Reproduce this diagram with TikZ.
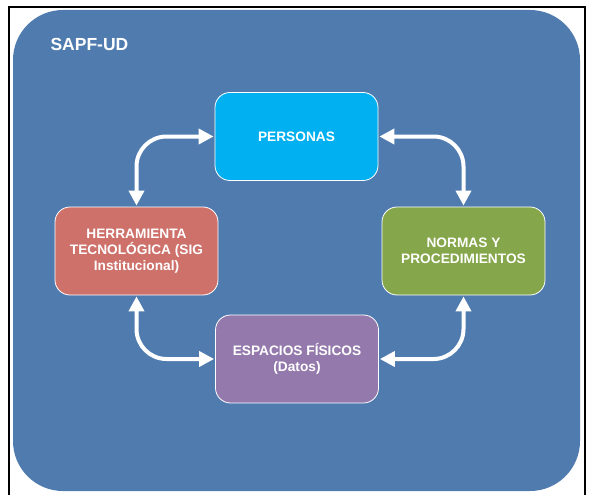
\documentclass[tikz,border=0pt]{standalone}
\usepackage{fontspec}
\setmainfont{Liberation Sans}
\usetikzlibrary{positioning, arrows.meta}
\definecolor{panelblue}{RGB}{79,123,175}
\definecolor{perblue}{RGB}{0,176,240}
\definecolor{herred}{RGB}{206,113,107}
\definecolor{norgreen}{RGB}{133,166,74}
\definecolor{esppurple}{RGB}{148,121,172}
\begin{document}
\begin{tikzpicture}[x=1pt, y=-1pt,
  box/.style={rectangle, rounded corners=15pt, draw=white, line width=0.8pt, minimum width=163pt, minimum height=88pt, align=center, text=white, font=\fontsize{13.7}{16}\selectfont\bfseries},
  arr/.style={{Triangle[length=15pt,width=15pt]}-{Triangle[length=15pt,width=15pt]}, line width=4pt, draw=white, rounded corners=30pt, shorten >=1pt, shorten <=1pt}
]
  \useasboundingbox (0,0) rectangle (592,495);
  \fill[white] (0,0) rectangle (592,495);
  \draw[line width=1.5pt] (9,495) -- (9,7) -- (585,7) -- (585,495);

  % Panel
  \node[fill=panelblue, rounded corners=50pt, minimum width=567pt, minimum height=481pt, inner sep=0pt] (panel) at (296.5,250.5) {};
  \node[anchor=west, text=white, font=\fontsize{17.5}{20}\selectfont\bfseries] (title) at (47,44) {SAPF-UD};

  % Boxes
  \node[box, fill=perblue] (per) at (296.5,136.5) {PERSONAS};
  \node[box, fill=herred] (her) at (136.5,251) {HERRAMIENTA\\TECNOLÓGICA (SIG\\Institucional)};
  \node[box, fill=norgreen] (nor) at (463.5,251) {NORMAS Y\\PROCEDIMIENTOS};
  \node[box, fill=esppurple] (esp) at (297,359) {ESPACIOS FÍSICOS\\(Datos)};

  % Arrows
  \draw[arr] (per.west) -| (her.north);
  \draw[arr] (per.east) -| (nor.north);
  \draw[arr] (her.south) |- (esp.west);
  \draw[arr] (nor.south) |- (esp.east);
\end{tikzpicture}
\end{document}
